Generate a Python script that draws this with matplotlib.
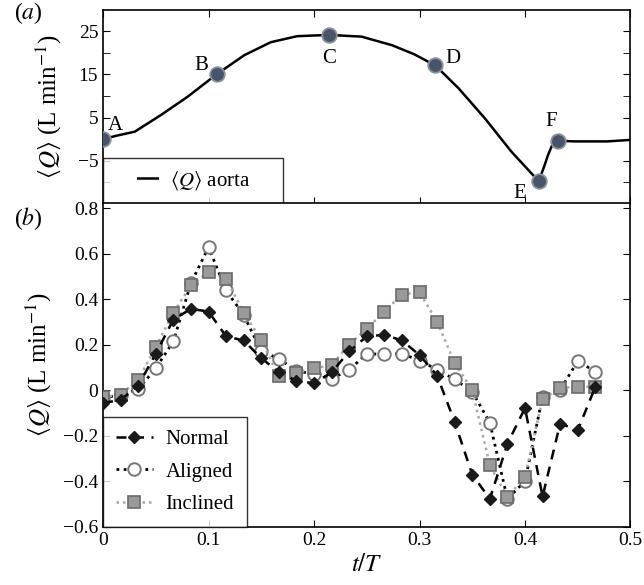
import numpy as np
import matplotlib
matplotlib.use("Agg")
import matplotlib.pyplot as plt
from matplotlib.lines import Line2D

plt.rcParams['font.family'] = ['Liberation Serif', 'DejaVu Serif']
plt.rcParams['mathtext.fontset'] = 'stix'
plt.rcParams['font.size'] = 15

# (a) aortic flow rate over the cycle
t_aorta = [0, 0.015, 0.03, 0.055, 0.08, 0.108, 0.134, 0.159, 0.184, 0.214,
           0.245, 0.274, 0.295, 0.315, 0.337, 0.362, 0.387, 0.413, 0.418,
           0.422, 0.426, 0.431, 0.447, 0.478, 0.5]
q_aorta = [0, 0.9, 1.7, 5.6, 9.8, 15.1, 19.5, 22.5, 23.9, 24.2,
           23.8, 21.8, 19.7, 17.1, 11.8, 4.8, -2.9, -9.8, -6.5,
           -3.6, -1.3, -0.4, -0.55, -0.55, -0.2]
point_names = ['A', 'B', 'C', 'D', 'E', 'F']
point_idx = [0, 5, 9, 13, 17, 21]
point_offsets = [(9, 10), (-11, 6), (0, -17), (13, 5), (-14, -9), (-5, 14)]

# (b) flow rate through the branch for the three configurations
t_b = np.arange(29) / 60.0
normal = [-0.057, -0.043, 0.02, 0.16, 0.31, 0.357, 0.345, 0.236, 0.218, 0.14,
          0.08, 0.04, 0.03, 0.078, 0.17, 0.236, 0.243, 0.218, 0.154, 0.064,
          -0.14, -0.371, -0.478, -0.236, -0.079, -0.467, -0.147, -0.176, 0.014]
aligned = [-0.035, -0.02, 0.004, 0.096, 0.214, 0.47, 0.628, 0.438, 0.33, 0.171,
           0.138, 0.085, 0.07, 0.05, 0.089, 0.16, 0.157, 0.16, 0.13, 0.09,
           0.047, -0.007, -0.143, -0.478, -0.40, -0.029, 0.0, 0.128, 0.081]
inclined = [-0.03, -0.02, 0.045, 0.19, 0.34, 0.46, 0.52, 0.49, 0.34, 0.22,
            0.06, 0.075, 0.095, 0.11, 0.20, 0.27, 0.345, 0.42, 0.43, 0.30,
            0.12, 0.0, -0.33, -0.47, -0.38, -0.04, 0.01, 0.015, 0.015]

x_ticks = [0, 0.1, 0.2, 0.3, 0.4, 0.5]
x_labels = ['0', '0.1', '0.2', '0.3', '0.4', '0.5']
ya_ticks = [-5, 5, 15, 25]
ya_labels = ['\u22125', '5', '15', '25']
yb_ticks = [-0.6, -0.4, -0.2, 0, 0.2, 0.4, 0.6, 0.8]
yb_labels = ['\u22120.6', '\u22120.4', '\u22120.2', '0', '0.2', '0.4', '0.6', '0.8']

fig = plt.figure(figsize=(6.44, 5.85), dpi=100)
ax1 = fig.add_axes([0.16, 0.652, 0.819, 0.331])
ax2 = fig.add_axes([0.16, 0.0997, 0.819, 0.5525])

ylab = r'$\langle Q\rangle$ (L min$^{-1}$)'

# top panel
ax1.plot(t_aorta, q_aorta, color='black', lw=1.8)
ax1.plot([t_aorta[i] for i in point_idx], [q_aorta[i] for i in point_idx], 'o',
         ms=10.5, mfc='#475469', mec='#8a929c', mew=1.3, zorder=3)
for name, i, off in zip(point_names, point_idx, point_offsets):
    ax1.annotate(name, (t_aorta[i], q_aorta[i]), xytext=off, textcoords='offset points',
                 ha='center', va='center', fontsize=15)
ax1.set_xlim(0, 0.5)
ax1.set_ylim(-15, 30)
ax1.set_xticks(x_ticks)
ax1.set_xticklabels([])
ax1.set_yticks(ya_ticks)
ax1.set_yticklabels(ya_labels)
ax1.set_yticks([-10, 0, 10, 20], minor=True)
ax1.tick_params(which='both', direction='in', top=True, right=True, length=5,
                labelsize=14)
ax1.set_ylabel(ylab, fontsize=18, labelpad=10)

# legend handle: blank lead-in, then a short solid line
aorta_handle = Line2D([], [], color='black', lw=1.8,
                      linestyle=(8.8, (8.8, 9.0)))
leg1 = ax1.legend([aorta_handle], [r'$\langle Q\rangle$ aorta' + '\u2002\u2002\u2009'],
                  loc='lower left', borderaxespad=0, fancybox=False, edgecolor='black',
                  handlelength=2.15, handletextpad=0.5, borderpad=0.55, fontsize=15)
leg1.get_frame().set_linewidth(1.0)

# bottom panel
ax2.plot(t_b, aligned, linestyle=(0, (1, 1.6)), color='black', lw=2.0,
         marker='o', ms=9, mfc='white', mec='#777777', mew=1.4, label='Aligned', zorder=2)
ax2.plot(t_b, inclined, linestyle=(0, (1, 1.6)), color='#a8a8a8', lw=1.8,
         marker='s', ms=8.5, mfc='#9a9a9a', mec='#6a6a6a', mew=1.2, label='Inclined', zorder=3)
ax2.plot(t_b, normal, linestyle=(0, (4, 3)), color='black', lw=1.8,
         marker='D', ms=6.5, mfc='#1a1a1a', mec='#1a1a1a', label='Normal', zorder=4)
ax2.set_xlim(0, 0.5)
ax2.set_ylim(-0.6, 0.82)
ax2.set_xticks(x_ticks)
ax2.set_xticklabels(x_labels)
ax2.set_yticks(yb_ticks)
ax2.set_yticklabels(yb_labels)
ax2.tick_params(direction='in', right=True, length=5, labelsize=14)
ax2.set_ylabel(ylab, fontsize=18, labelpad=6)
ax2.set_xlabel(r'$t/T$', fontsize=18, labelpad=4)

handles, labels = ax2.get_legend_handles_labels()
order = [2, 0, 1]
leg2 = ax2.legend([handles[i] for i in order], [labels[i] for i in order],
                  loc='lower left', borderaxespad=0, fancybox=False, edgecolor='black',
                  handlelength=1.8, handletextpad=0.6, labelspacing=0.62, borderpad=0.6,
                  fontsize=15)
leg2.get_frame().set_linewidth(1.0)

for ax in (ax1, ax2):
    for sp in ax.spines.values():
        sp.set_linewidth(1.2)

fig.text(0.022, 0.977, r'($a$)', fontsize=17, va='center')
fig.text(0.022, 0.627, r'($b$)', fontsize=17, va='center')

fig.savefig('out.png', dpi=100)
